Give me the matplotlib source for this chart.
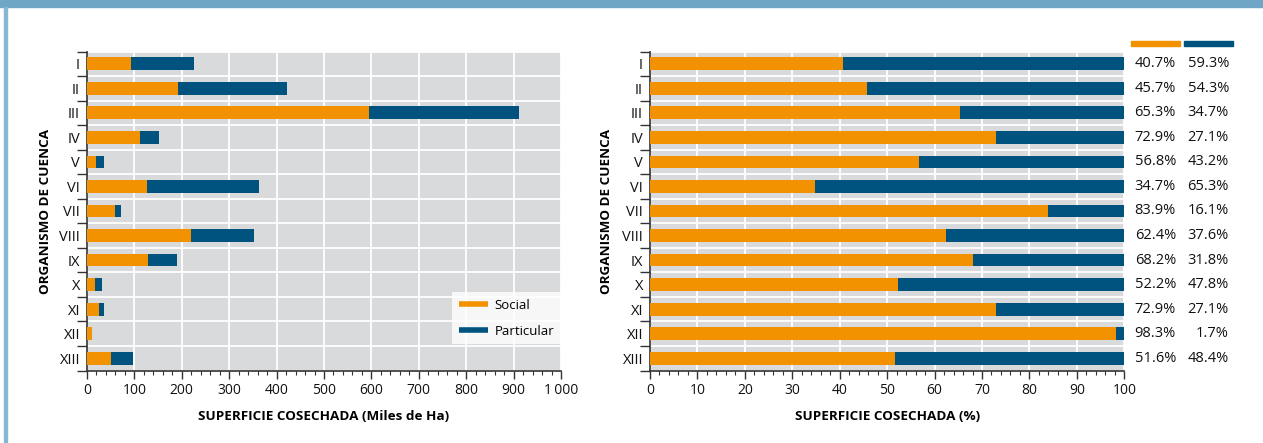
import matplotlib
matplotlib.use("Agg")
import matplotlib.pyplot as plt
import numpy as np
from matplotlib.lines import Line2D
from matplotlib.patches import Rectangle
from matplotlib.ticker import MultipleLocator, FixedLocator, FuncFormatter
from matplotlib.transforms import blended_transform_factory

plt.rcParams['font.family'] = ['Open Sans', 'DejaVu Sans']

categories = ["I", "II", "III", "IV", "V", "VI", "VII", "VIII", "IX", "X", "XI", "XII", "XIII"]
social_miles = [92.0, 192.4, 594.9, 110.8, 19.9, 125.6, 59.6, 220.3, 129.6, 16.2, 25.5, 10.8, 50.1]
particular_miles = [134.0, 228.6, 316.1, 41.2, 15.1, 236.4, 11.4, 132.7, 60.4, 14.8, 9.5, 0.2, 46.9]
social_pct = [40.7, 45.7, 65.3, 72.9, 56.8, 34.7, 83.9, 62.4, 68.2, 52.2, 72.9, 98.3, 51.6]
particular_pct = [59.3, 54.3, 34.7, 27.1, 43.2, 65.3, 16.1, 37.6, 31.8, 47.8, 27.1, 1.7, 48.4]
legend_labels = ["Social", "Particular"]
xlabel_left = "SUPERFICIE COSECHADA (Miles de Ha)"
xlabel_right = "SUPERFICIE COSECHADA (%)"
ylabel = "ORGANISMO DE CUENCA"

ORANGE = "#F39200"
BLUE = "#00527F"
BG = "#D9DADB"
DARK = "#333333"

W, H = 1263, 443
fig = plt.figure(figsize=(W / 100, H / 100), dpi=100)

# decorative frame
fig.patches.append(Rectangle((0, 1 - 7 / H), 1, 7 / H, transform=fig.transFigure,
                             color="#6FA6C5", zorder=0))
fig.patches.append(Rectangle((4 / W, 0), 3 / W, 1 - 7 / H, transform=fig.transFigure,
                             color="#86B8D5", zorder=0))

ax_bottom = 1 - 370.5 / H
ax_height = (370.5 - 51.5) / H
axL = fig.add_axes([87 / W, ax_bottom, (561 - 87) / W, ax_height])
axR = fig.add_axes([650 / W, ax_bottom, (1124.3 - 650) / W, ax_height])

y = np.arange(len(categories))
bh = 0.52


def style(ax, xmax, major, minor, fmt):
    ax.set_facecolor(BG)
    ax.set_xlim(0, xmax)
    ax.set_ylim(len(categories) - 0.5, -0.5)
    ax.xaxis.set_major_locator(MultipleLocator(major))
    ax.xaxis.set_minor_locator(MultipleLocator(minor))
    ax.xaxis.set_major_formatter(FuncFormatter(fmt))
    ax.yaxis.set_major_locator(FixedLocator(np.arange(-0.5, len(categories), 1)))
    ax.yaxis.set_major_formatter(FuncFormatter(lambda v, p: ""))
    ax.set_yticks(y, minor=True)
    ax.set_yticklabels(categories, minor=True)
    ax.tick_params(axis='y', which='major', length=7, width=1, color=DARK, direction='out')
    ax.tick_params(axis='y', which='minor', length=0, pad=5, labelsize=10.5, labelcolor="#111111")
    ax.tick_params(axis='x', which='major', length=6, width=1, color=DARK, pad=3,
                   labelsize=10, labelcolor="#111111")
    ax.tick_params(axis='x', which='minor', length=3, width=0.8, color=DARK)
    ax.grid(which='major', color='white', linewidth=1.3)
    ax.grid(which='minor', visible=False)
    ax.set_axisbelow(True)
    for s in ("top", "right"):
        ax.spines[s].set_visible(False)
    for s in ("left", "bottom"):
        ax.spines[s].set_color(DARK)
        ax.spines[s].set_linewidth(1.2)
    ax.set_ylabel(ylabel, fontsize=9.7, fontweight='bold')


def fmt_thousands(v, p):
    v = int(round(v))
    return f"{v:,}".replace(",", "\u2009") if v >= 1000 else str(v)


style(axL, 1000, 100, 20, fmt_thousands)
style(axR, 100, 10, 2, lambda v, p: str(int(round(v))))

axL.barh(y, social_miles, height=bh, color=ORANGE, zorder=3)
axL.barh(y, particular_miles, left=social_miles, height=bh, color=BLUE, zorder=3)
axR.barh(y, social_pct, height=bh, color=ORANGE, zorder=3)
axR.barh(y, particular_pct, left=social_pct, height=bh, color=BLUE, zorder=3)

axL.set_xlabel(xlabel_left, fontsize=9.7, fontweight='bold', labelpad=9)
axR.set_xlabel(xlabel_right, fontsize=9.7, fontweight='bold', labelpad=9)
axL.yaxis.set_label_coords(-0.074, 0.5)
axR.yaxis.set_label_coords(-0.078, 0.5)

handles = [Line2D([0], [0], color=ORANGE, lw=4, solid_capstyle='butt'),
           Line2D([0], [0], color=BLUE, lw=4, solid_capstyle='butt')]
leg = axL.legend(handles, legend_labels, loc='lower right', bbox_to_anchor=(1.0, 0.082),
                 borderaxespad=0, frameon=True, fancybox=False, fontsize=9.5,
                 handlelength=2.2, handletextpad=0.5, labelspacing=1.0,
                 borderpad=0.5)
leg.get_frame().set_facecolor('white')
leg.get_frame().set_edgecolor('white')
leg.get_frame().set_linewidth(0)
leg.set_zorder(5)

tr = blended_transform_factory(axR.transAxes, axR.transData)
for i in range(len(categories)):
    axR.text(1.109, y[i], f"{social_pct[i]:.1f}%", transform=tr, ha='right', va='center',
             fontsize=10.5, color="#111111", clip_on=False)
    axR.text(1.2207, y[i], f"{particular_pct[i]:.1f}%", transform=tr, ha='right', va='center',
             fontsize=10.5, color="#111111", clip_on=False)

# header swatches over the percentage columns
axR.add_patch(Rectangle((1.014, 1.018), 0.103, 0.0157, transform=axR.transAxes,
                        color=ORANGE, clip_on=False))
axR.add_patch(Rectangle((1.126, 1.018), 0.103, 0.0157, transform=axR.transAxes,
                        color=BLUE, clip_on=False))

fig.savefig("out.png", dpi=100)
